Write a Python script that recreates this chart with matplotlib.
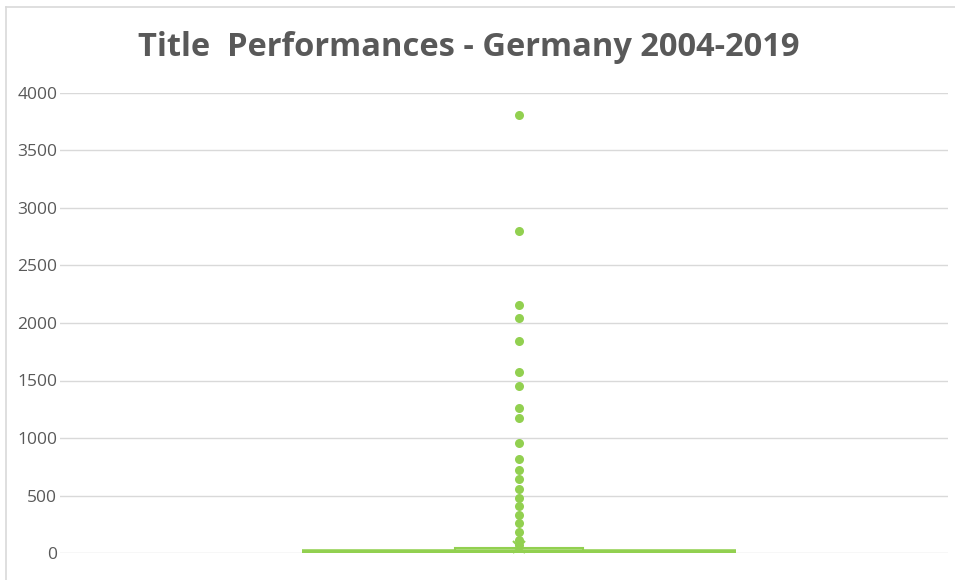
import matplotlib
matplotlib.use("Agg")
import matplotlib.pyplot as plt
from matplotlib.lines import Line2D
from matplotlib.patches import Rectangle

title = "Title  Performances - Germany 2004-2019"
yticks = [0, 500, 1000, 1500, 2000, 2500, 3000, 3500, 4000]
outliers = [3810, 2800, 2155, 2045, 1840, 1570, 1450, 1260, 1175, 955,
            815, 725, 645, 555, 475, 405, 330, 260, 185, 115, 70]
q1 = 0
median = 5
q3 = 45
whisker_low = 0
mean = 55

green = "#92d050"
grey_text = "#595959"
grid_col = "#d9d9d9"

fig = plt.figure(figsize=(9.55, 5.8), dpi=100)
# outer chart border (left and top visible)
fig.add_artist(Line2D([6/955, 6/955], [0, 1 - 7/580], transform=fig.transFigure,
                      color=grid_col, linewidth=1.2))
fig.add_artist(Line2D([6/955, 1], [1 - 7/580, 1 - 7/580], transform=fig.transFigure,
                      color=grid_col, linewidth=1.2))
ax = fig.add_axes([60/955, 27/580, 888/955, 460/580])

pos = 0.0
ax.set_xlim(-0.517, 0.483)
ax.set_ylim(0, 4000)

# box
box_w = 0.145
ax.add_patch(Rectangle((pos - box_w/2, q1), box_w, q3 - q1, facecolor="white",
                       edgecolor=green, linewidth=1.5, zorder=3))
# wide median/whisker line
wide = 0.489
ax.hlines(median, pos - wide/2, pos + wide/2, color=green, linewidth=4, zorder=4)
# outliers
ax.plot([pos]*len(outliers), outliers, "o", color=green, markersize=6.5,
        markeredgewidth=0, zorder=5)
# mean marker
ax.plot([pos], [mean], "x", color=green, markersize=8, markeredgewidth=1.5, zorder=5)

ax.set_yticks(yticks)
ax.set_xticks([])
ax.grid(axis="y", color=grid_col, linewidth=1)
ax.set_axisbelow(True)
for s in ax.spines.values():
    s.set_visible(False)
ax.tick_params(axis="y", length=0, pad=2, labelsize=12.5, labelcolor=grey_text)
for lab in ax.get_yticklabels():
    lab.set_fontfamily("Open Sans")

fig.text(469/955, 1 - 47/580, title, ha="center", va="center", fontsize=23.5,
         fontweight="bold", color=grey_text, family="Open Sans")

fig.savefig("out.png", dpi=100)
